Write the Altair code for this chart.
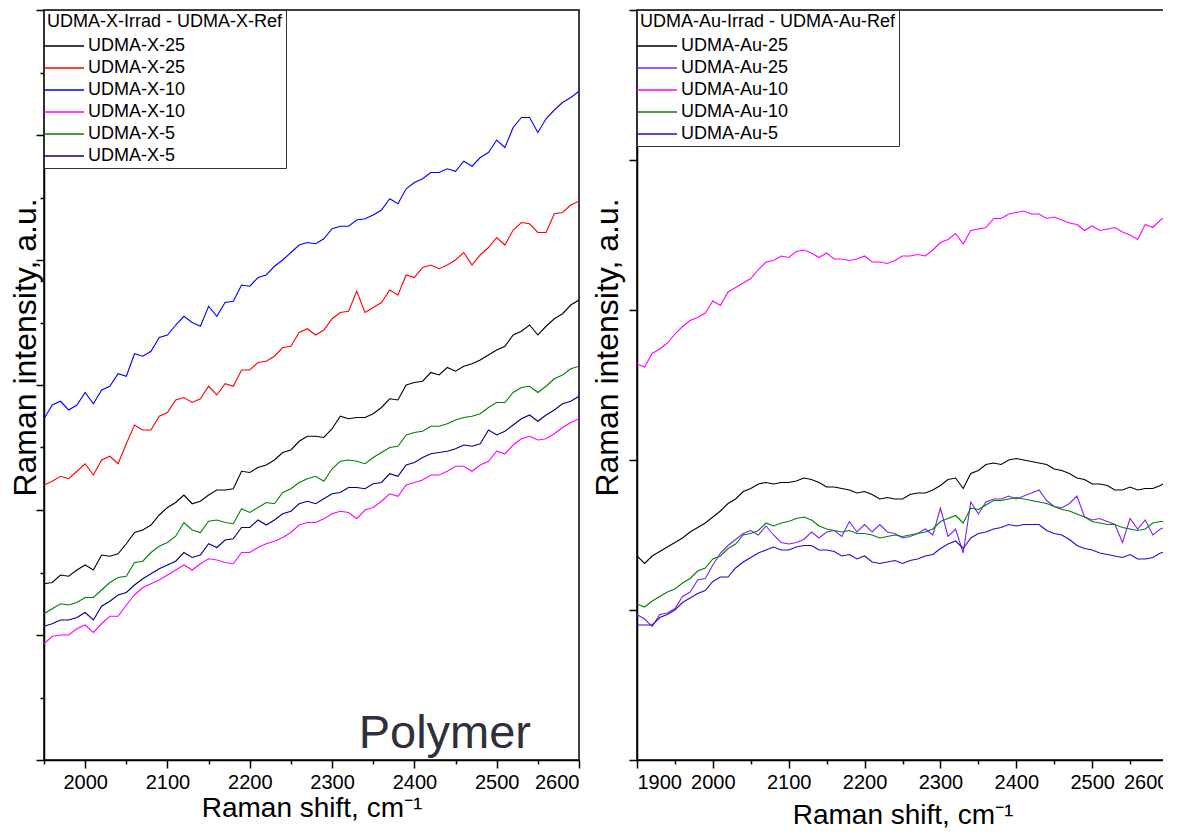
import altair as alt
import pandas as pd

FONT = "Liberation Sans"

# ---------------- left panel (UDMA-X) ----------------
X_LEFT = list(range(1950, 2601, 10))

x25_black = [1.41, 1.42, 1.48, 1.47, 1.52, 1.56, 1.52, 1.64, 1.63, 1.65,
             1.73, 1.82, 1.84, 1.88, 1.96, 2.02, 2.06, 2.12, 2.05, 2.07,
             2.12, 2.16, 2.16, 2.17, 2.31, 2.30, 2.34, 2.36, 2.40, 2.46,
             2.48, 2.55, 2.59, 2.59, 2.58, 2.65, 2.75, 2.73, 2.74, 2.74,
             2.77, 2.82, 2.89, 2.88, 3.00, 3.02, 3.03, 3.10, 3.08, 3.14,
             3.11, 3.15, 3.17, 3.20, 3.24, 3.28, 3.31, 3.40, 3.43, 3.48,
             3.40, 3.47, 3.53, 3.57, 3.64, 3.68]
x25_red = [2.20, 2.23, 2.27, 2.25, 2.31, 2.37, 2.28, 2.40, 2.43, 2.37,
           2.53, 2.68, 2.64, 2.64, 2.75, 2.78, 2.88, 2.90, 2.86, 2.89,
           2.99, 2.92, 3.01, 2.99, 3.12, 3.12, 3.18, 3.19, 3.23, 3.30,
           3.31, 3.42, 3.45, 3.40, 3.44, 3.53, 3.58, 3.59, 3.75, 3.58,
           3.62, 3.66, 3.76, 3.72, 3.88, 3.86, 3.94, 3.96, 3.93, 3.96,
           4.00, 4.06, 3.96, 4.04, 4.10, 4.18, 4.12, 4.24, 4.30, 4.29,
           4.22, 4.22, 4.37, 4.38, 4.44, 4.47]
x10_blue = [2.73, 2.84, 2.87, 2.80, 2.84, 2.94, 2.85, 2.96, 2.99, 3.09,
            3.07, 3.25, 3.23, 3.27, 3.38, 3.40, 3.48, 3.55, 3.50, 3.47,
            3.63, 3.55, 3.66, 3.67, 3.80, 3.79, 3.86, 3.88, 3.95, 4.00,
            4.06, 4.12, 4.14, 4.13, 4.17, 4.25, 4.27, 4.27, 4.32, 4.33,
            4.36, 4.40, 4.49, 4.45, 4.57, 4.62, 4.65, 4.70, 4.70, 4.73,
            4.71, 4.79, 4.75, 4.82, 4.86, 4.96, 4.90, 5.06, 5.14, 5.14,
            5.02, 5.13, 5.20, 5.26, 5.30, 5.35]
x10_magenta = [0.93, 0.99, 1.00, 1.00, 1.05, 1.08, 1.02, 1.09, 1.15, 1.15,
               1.24, 1.32, 1.38, 1.41, 1.44, 1.48, 1.52, 1.56, 1.52, 1.57,
               1.61, 1.60, 1.58, 1.57, 1.66, 1.66, 1.70, 1.73, 1.75, 1.78,
               1.82, 1.88, 1.90, 1.90, 1.93, 1.97, 1.99, 1.98, 1.93, 2.00,
               2.02, 2.07, 2.13, 2.11, 2.20, 2.22, 2.24, 2.28, 2.28, 2.31,
               2.35, 2.35, 2.31, 2.36, 2.39, 2.47, 2.45, 2.52, 2.57, 2.59,
               2.56, 2.57, 2.61, 2.66, 2.70, 2.73]
x5_green = [1.17, 1.21, 1.25, 1.24, 1.26, 1.30, 1.30, 1.36, 1.42, 1.46,
            1.47, 1.58, 1.59, 1.66, 1.71, 1.74, 1.79, 1.90, 1.84, 1.82,
            1.91, 1.92, 1.90, 1.89, 2.01, 1.98, 2.02, 2.06, 2.05, 2.14,
            2.17, 2.22, 2.25, 2.27, 2.23, 2.33, 2.39, 2.40, 2.39, 2.37,
            2.42, 2.46, 2.50, 2.51, 2.60, 2.62, 2.63, 2.67, 2.67, 2.69,
            2.72, 2.74, 2.75, 2.77, 2.82, 2.86, 2.86, 2.94, 2.98, 2.99,
            2.94, 2.99, 3.05, 3.08, 3.13, 3.15]
x5_navy = [1.07, 1.09, 1.12, 1.12, 1.14, 1.18, 1.12, 1.23, 1.27, 1.32,
           1.34, 1.40, 1.45, 1.49, 1.53, 1.56, 1.59, 1.66, 1.62, 1.64,
           1.73, 1.70, 1.76, 1.77, 1.86, 1.86, 1.92, 1.88, 1.92, 1.97,
           1.99, 2.05, 2.07, 2.05, 2.09, 2.13, 2.14, 2.18, 2.18, 2.17,
           2.21, 2.22, 2.29, 2.27, 2.36, 2.38, 2.42, 2.45, 2.46, 2.47,
           2.49, 2.52, 2.51, 2.53, 2.64, 2.60, 2.63, 2.68, 2.73, 2.76,
           2.71, 2.76, 2.80, 2.85, 2.87, 2.91]

LEFT_KEYS = ["UDMA-X-25 a", "UDMA-X-25 b", "UDMA-X-10 a", "UDMA-X-10 b",
             "UDMA-X-5 a", "UDMA-X-5 b"]
LEFT_COLORS = ["#000000", "#ff0000", "#0000ff", "#ff00ff", "#008000", "#000080"]
LEFT_SERIES = [x25_black, x25_red, x10_blue, x10_magenta, x5_green, x5_navy]

# ---------------- right panel (UDMA-Au) ----------------
X_RIGHT = list(range(1900, 2601, 10))

au25_black = [1.36, 1.31, 1.36, 1.39, 1.42, 1.45, 1.48, 1.52, 1.55, 1.58,
              1.62, 1.66, 1.71, 1.74, 1.79, 1.81, 1.84, 1.85, 1.84, 1.85,
              1.85, 1.86, 1.88, 1.87, 1.85, 1.82, 1.82, 1.81, 1.80, 1.78,
              1.79, 1.77, 1.74, 1.75, 1.74, 1.74, 1.77, 1.78, 1.78, 1.80,
              1.83, 1.87, 1.88, 1.81, 1.91, 1.93, 1.97, 1.98, 1.97, 2.00,
              2.01, 2.00, 1.99, 1.98, 1.97, 1.94, 1.93, 1.91, 1.88, 1.87,
              1.84, 1.84, 1.83, 1.80, 1.80, 1.82, 1.80, 1.81, 1.81, 1.83,
              1.86]
au25_violet = [0.97, 0.94, 0.89, 0.97, 0.98, 1.01, 1.09, 1.12, 1.20, 1.21,
               1.30, 1.38, 1.43, 1.47, 1.51, 1.53, 1.50, 1.56, 1.50, 1.45,
               1.44, 1.45, 1.47, 1.52, 1.48, 1.52, 1.53, 1.49, 1.59, 1.52,
               1.57, 1.52, 1.57, 1.52, 1.51, 1.48, 1.49, 1.51, 1.54, 1.50,
               1.68, 1.49, 1.54, 1.38, 1.72, 1.64, 1.72, 1.74, 1.74, 1.76,
               1.74, 1.76, 1.78, 1.80, 1.73, 1.69, 1.68, 1.71, 1.76, 1.62,
               1.60, 1.61, 1.59, 1.57, 1.45, 1.61, 1.54, 1.60, 1.50, 1.54,
               1.56]
au10_magenta = [2.64, 2.62, 2.71, 2.74, 2.78, 2.84, 2.89, 2.93, 2.95, 2.98,
                3.06, 3.03, 3.12, 3.15, 3.18, 3.21, 3.27, 3.32, 3.33, 3.36,
                3.35, 3.39, 3.40, 3.38, 3.35, 3.38, 3.34, 3.34, 3.33, 3.34,
                3.36, 3.32, 3.32, 3.31, 3.33, 3.36, 3.36, 3.37, 3.36, 3.40,
                3.45, 3.47, 3.51, 3.44, 3.53, 3.54, 3.55, 3.61, 3.61, 3.64,
                3.65, 3.66, 3.64, 3.64, 3.61, 3.62, 3.60, 3.58, 3.57, 3.53,
                3.56, 3.53, 3.54, 3.55, 3.52, 3.50, 3.47, 3.57, 3.55, 3.60,
                3.63]
au10_green = [1.04, 1.02, 1.06, 1.09, 1.12, 1.14, 1.18, 1.21, 1.26, 1.28,
              1.34, 1.36, 1.41, 1.44, 1.50, 1.51, 1.53, 1.58, 1.56, 1.58,
              1.59, 1.61, 1.62, 1.60, 1.56, 1.54, 1.53, 1.52, 1.53, 1.51,
              1.51, 1.50, 1.48, 1.49, 1.50, 1.49, 1.50, 1.51, 1.52, 1.54,
              1.59, 1.61, 1.63, 1.58, 1.68, 1.67, 1.70, 1.73, 1.73, 1.74,
              1.75, 1.74, 1.73, 1.72, 1.71, 1.69, 1.67, 1.66, 1.64, 1.62,
              1.59, 1.58, 1.57, 1.57, 1.55, 1.54, 1.53, 1.54, 1.58, 1.59,
              1.59]
au5_blue = [0.90, 0.90, 0.90, 0.95, 0.97, 1.00, 1.05, 1.08, 1.11, 1.13,
            1.19, 1.22, 1.22, 1.28, 1.32, 1.35, 1.38, 1.40, 1.42, 1.40,
            1.40, 1.42, 1.43, 1.43, 1.40, 1.40, 1.39, 1.36, 1.37, 1.34,
            1.36, 1.32, 1.31, 1.32, 1.33, 1.31, 1.33, 1.34, 1.36, 1.37,
            1.41, 1.44, 1.46, 1.41, 1.48, 1.51, 1.52, 1.54, 1.55, 1.57,
            1.56, 1.57, 1.57, 1.57, 1.53, 1.51, 1.50, 1.47, 1.43, 1.41,
            1.40, 1.38, 1.37, 1.36, 1.35, 1.37, 1.34, 1.34, 1.35, 1.38,
            1.39]

RIGHT_KEYS = ["UDMA-Au-25 a", "UDMA-Au-25 b", "UDMA-Au-10 a", "UDMA-Au-10 b",
              "UDMA-Au-5 a"]
RIGHT_COLORS = ["#000000", "#7f1fff", "#ff00ff", "#008000", "#2a08cc"]
RIGHT_SERIES = [au25_black, au25_violet, au10_magenta, au10_green, au5_blue]


def long_frame(xs, keys, series):
    rows = []
    for key, vals in zip(keys, series):
        for x, y in zip(xs, vals):
            rows.append({"shift": x, "intensity": y, "series": key})
    return pd.DataFrame(rows)


left_df = long_frame(X_LEFT, LEFT_KEYS, LEFT_SERIES)
right_df = long_frame(X_RIGHT, RIGHT_KEYS, RIGHT_SERIES)

legend_common = dict(
    orient="top-left", offset=0, padding=3,
    strokeColor="#333333", fillColor="white",
    titleFont=FONT, titleFontSize=18, titleFontWeight="normal",
    titleColor="black", titlePadding=6, titleLimit=0,
    labelFont=FONT, labelFontSize=18, labelColor="black", labelLimit=0,
    symbolType="M-4,0H4", symbolSize=100, symbolStrokeWidth=1.3,
    symbolOffset=8, labelOffset=15, rowPadding=4,
    labelExpr="split(datum.label, ' ')[0]",
)

MINOR_X = {"condition": {"test": "datum.value % 100 !== 0", "value": 4}, "value": 8}
MINOR_Y = {"condition": {"test": "datum.value % 1 !== 0", "value": 4}, "value": 8}
X_TITLE = "Raman shift, cm\u207b\u00b9"
Y_TITLE = "Raman intensity, a.u."

# ---- left ----
xl = alt.X("shift:Q",
           scale=alt.Scale(domain=[1950, 2600], nice=False, zero=False),
           axis=alt.Axis(values=list(range(1950, 2601, 50)), format="d",
                         labelExpr="datum.value % 100 === 0 ? datum.label : ''",
                         tickSize=MINOR_X, labelFontSize=20, labelPadding=4,
                         labelOverlap=False, title=X_TITLE, titleFontSize=28,
                         titlePadding=2))
yl = alt.Y("intensity:Q",
           scale=alt.Scale(domain=[0, 6], nice=False, zero=False),
           axis=alt.Axis(values=[i / 2 for i in range(13)], labels=False,
                         tickSize=MINOR_Y, title=Y_TITLE, titleFontSize=32,
                         titlePadding=-7, titleY=337))

left_lines = alt.Chart(left_df).mark_line(strokeWidth=1.1, clip=True).encode(
    x=xl, y=yl,
    color=alt.Color("series:N",
                    scale=alt.Scale(domain=LEFT_KEYS, range=LEFT_COLORS),
                    legend=alt.Legend(title="UDMA-X-Irrad - UDMA-X-Ref", **legend_common)),
    detail="series:N",
)
ANNOT_X = [2437]
ANNOT_Y = [0.1]
ANNOT_TEXT = ["Polymer"]
left_text = alt.Chart(pd.DataFrame({"shift": ANNOT_X, "intensity": ANNOT_Y, "label": ANNOT_TEXT})).mark_text(
    font=FONT, fontSize=47, color="#30303c", align="center", baseline="alphabetic"
).encode(x=xl, y=yl, text="label:N")

left = alt.layer(left_lines, left_text).properties(width=535, height=750)

# ---- right ----
xr = alt.X("shift:Q",
           scale=alt.Scale(domain=[1900, 2600], nice=False, zero=False),
           axis=alt.Axis(values=list(range(1900, 2601, 50)), format="d",
                         labelExpr="datum.value % 100 === 0 ? datum.label : ''",
                         tickSize=MINOR_X, labelFontSize=20, labelPadding=4,
                         labelOverlap=False, title=X_TITLE, titleFontSize=28,
                         titlePadding=9))
yr = alt.Y("intensity:Q",
           scale=alt.Scale(domain=[0, 5], nice=False, zero=False),
           axis=alt.Axis(values=[0, 1, 2, 3, 4, 5], labels=False, tickSize=8,
                         title=Y_TITLE, titleFontSize=32, titlePadding=4,
                         titleY=337))

right = alt.Chart(right_df).mark_line(strokeWidth=1.1, clip=True).encode(
    x=xr, y=yr,
    color=alt.Color("series:N",
                    scale=alt.Scale(domain=RIGHT_KEYS, range=RIGHT_COLORS),
                    legend=alt.Legend(title="UDMA-Au-Irrad - UDMA-Au-Ref", **legend_common)),
    detail="series:N",
).properties(width=531, height=750)

chart = alt.hconcat(left, right, spacing=58, bounds="flush").resolve_scale(
    color="independent", x="independent", y="independent"
).properties(
    padding={"left": 0, "top": 0, "right": -7, "bottom": 0},
    background="white",
).configure_view(
    stroke="black", strokeWidth=1.5
).configure_axis(
    domainColor="black", domainWidth=1.5, tickColor="black", tickWidth=1.5,
    labelFont=FONT, titleFont=FONT, labelColor="black", titleColor="black",
    titleFontWeight="normal", grid=False,
)

chart.save("out.html", embed_options={"renderer": "svg", "actions": False})
